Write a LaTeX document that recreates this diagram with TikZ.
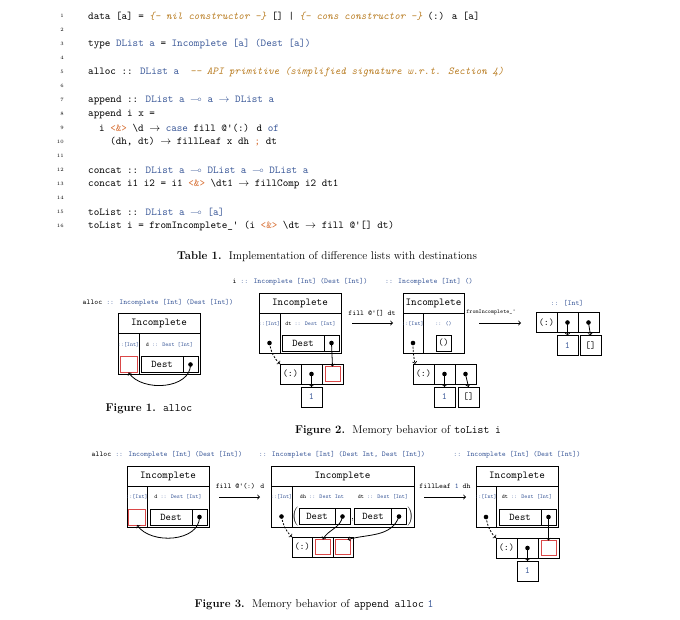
\documentclass[tikz,border=0pt]{standalone}
\usepackage{amsmath, amssymb}
\usetikzlibrary{arrows, positioning}

\definecolor{tyblue}{RGB}{58,88,152}
\definecolor{cmtorange}{RGB}{185,125,35}
\definecolor{oporange}{RGB}{215,110,50}
\definecolor{holered}{RGB}{218,72,72}

\newcommand{\tyc}[1]{\textcolor{tyblue}{#1}}
\newcommand{\cmtc}[1]{{\itshape\color{cmtorange}#1}}
\newcommand{\opc}[1]{\textcolor{oporange}{#1}}
\newcommand{\blk}[1]{\textcolor{black}{#1}}
\newcommand{\sq}{\textquotesingle}

\begin{document}
\begin{tikzpicture}[x=1pt, y=-1pt,
    codeline/.style={anchor=west, inner sep=0pt, font=\ttfamily\fontsize{10.6}{12}\selectfont},
    lineno/.style={anchor=east, inner sep=0pt, font=\fontsize{5}{6}\selectfont},
    capt/.style={inner sep=0pt, font=\fontsize{11.3}{13}\selectfont},
    tylabel/.style={inner sep=0pt, text=tyblue, font=\ttfamily\fontsize{7.4}{9}\selectfont},
    inlabel/.style={inner sep=0pt, text=tyblue, font=\ttfamily\fontsize{5.8}{7}\selectfont},
    steplabel/.style={inner sep=0pt, font=\ttfamily\fontsize{7.4}{9}\selectfont},
    hdr/.style={draw, line width=1pt, inner sep=0pt, outer sep=0pt, minimum height=20pt, font=\ttfamily\fontsize{10.6}{12}\selectfont},
    bodycol/.style={draw, line width=1pt, inner sep=0pt, outer sep=0pt, minimum height=41pt},
    memcell/.style={draw, line width=1pt, inner sep=0pt, outer sep=0pt, minimum width=21pt, minimum height=20pt, font=\ttfamily\fontsize{9.6}{11}\selectfont},
    destbox/.style={memcell, minimum width=42pt, minimum height=16pt, font=\ttfamily\fontsize{10.2}{12}\selectfont},
    dotcell/.style={memcell, minimum width=15pt, minimum height=16pt},
    hole/.style={draw=holered, line width=1pt, inner sep=0pt, outer sep=0pt, minimum width=15pt, minimum height=15pt},
    ptrdot/.style={circle, fill, inner sep=0pt, minimum size=4.6pt},
    paren/.style={inner sep=0pt, font=\fontsize{10.5}{12}\selectfont},
    ptr/.style={->, line width=0.8pt},
    dptr/.style={->, line width=0.8pt, dash pattern=on 2pt off 1.5pt},
    steparrow/.style={->, line width=0.9pt}
]
\useasboundingbox (0,0) rectangle (680,619);

% Code listing
\foreach \k in {1,...,16}
  \node[lineno] (n\k) at (64,{16+14*(\k-1)}) {\k};
\node[codeline] (l1) at (88,16) {data [a] = \cmtc{\{- nil constructor -\}} [] | \cmtc{\{- cons constructor -\}} (:) a [a]};
\node[codeline] (l3) at (88,44) {type \tyc{DList a} = \tyc{Incomplete [a] (Dest [a])}};
\node[codeline] (l5) at (88,72) {alloc :: \tyc{DList a}\ \ \cmtc{-{}- API primitive (simplified signature w.r.t. Section 4)}};
\node[codeline] (l7) at (88,100) {append :: \tyc{DList a $\multimap$ a $\rightarrow$ DList a}};
\node[codeline] (l8) at (88,114) {append i x =};
\node[codeline] (l9) at (99,128) {i \opc{<\&>} \textbackslash d $\rightarrow$ \tyc{case} fill @\sq(:) d \tyc{of}};
\node[codeline] (l10) at (110,142) {(dh, dt) $\rightarrow$ fillLeaf x dh \opc{;} dt};
\node[codeline] (l12) at (88,170) {concat :: \tyc{DList a $\multimap$ DList a $\multimap$ DList a}};
\node[codeline] (l13) at (88,184) {concat i1 i2 = i1 \opc{<\&>} \textbackslash dt1 $\rightarrow$ fillComp i2 dt1};
\node[codeline] (l15) at (88,212) {toList :: \tyc{DList a $\multimap$ [a]}};
\node[codeline] (l16) at (88,226) {toList i = fromIncomplete\_\sq\ (i \opc{<\&>} \textbackslash dt $\rightarrow$ fill @\sq[] dt)};

\node[capt] (tabcap) at (327,257) {\textbf{Table 1.}\ \ Implementation of difference lists with destinations};

% Figure 1: alloc
\node[tylabel] (f1ty) at (158,303) {\blk{alloc} :: Incomplete [Int] (Dest [Int])};
\node[hdr, minimum width=82pt] (f1hd) at (159,323.5) {Incomplete};
\node[bodycol, minimum width=21pt, below right=0pt and 0pt of f1hd.south west] (f1lc) {};
\node[bodycol, minimum width=61pt, right=0pt of f1lc] (f1rc) {};
\node[inlabel, below=8.5pt of f1lc.north] (f1lcty) {::[Int]};
\node[inlabel, below=8.5pt of f1rc.north] (f1rcty) {\blk{d} :: Dest [Int]};
\node[hole, minimum width=17pt, minimum height=16pt, above=2pt of f1lc.south] (f1hole) {};
\node[dotcell, above left=2pt and 2pt of f1rc.south east] (f1dc) {};
\node[destbox, left=0pt of f1dc] (f1dest) {Dest};
\node[ptrdot] (f1dd) at (f1dc) {};
\draw[ptr] (f1dd.center) to[out=-90, in=-55, looseness=1] (f1hole.south);
\node[capt] (f1cap) at (149,409) {\textbf{Figure 1.}\ \ \texttt{alloc}};

% Figure 2: toList i
\node[tylabel] (f2ty1) at (300,282) {\blk{i} :: Incomplete [Int] (Dest [Int])};
\node[tylabel] (f2ty2) at (429,282) {:: Incomplete [Int] ()};
\node[tylabel] (f2ty3) at (567,303) {:: [Int]};

\node[hdr, minimum width=82pt] (f2ahd) at (300,303) {Incomplete};
\node[bodycol, minimum width=21pt, minimum height=40pt, below right=0pt and 0pt of f2ahd.south west] (f2alc) {};
\node[bodycol, minimum width=61pt, minimum height=40pt, right=0pt of f2alc] (f2arc) {};
\node[inlabel, below=8.5pt of f2alc.north] (f2alcty) {::[Int]};
\node[inlabel, below=8.5pt of f2arc.north] (f2arcty) {\blk{dt} :: Dest [Int]};
\node[dotcell, above left=2pt and 2pt of f2arc.south east] (f2adc) {};
\node[destbox, left=0pt of f2adc] (f2adest) {Dest};
\node[ptrdot] (f2add) at (f2adc) {};
\node[ptrdot] (f2ald) at (f2alc.center |- f2adc.center) {};
\node[memcell, below right=11pt and 0pt of f2alc.south east] (f2ac1) {(:)};
\node[memcell, right=0pt of f2ac1] (f2ac2) {};
\node[memcell, right=0pt of f2ac2] (f2ac3) {};
\node[hole] (f2ahole) at (f2ac3) {};
\node[ptrdot] (f2acd) at (f2ac2) {};
\node[memcell, below=3pt of f2ac2] (f2aone) {\tyc{1}};
\draw[dptr] (f2ald.center) to[out=-80, in=135] (f2ac1.north west);
\draw[ptr] (f2add.center) -- (f2ahole.north);
\draw[ptr] (f2acd.center) -- (f2aone.north);

\node[steplabel] (f2s1) at (372,313) {fill @\sq[] dt};
\coordinate (f2s1a) at (352,323);
\coordinate (f2s1b) at (393,323);
\draw[steparrow] (f2s1a) -- (f2s1b);

\node[hdr, minimum width=61pt] (f2bhd) at (433.5,303) {Incomplete};
\node[bodycol, minimum width=20pt, minimum height=40pt, below right=0pt and 0pt of f2bhd.south west] (f2blc) {};
\node[bodycol, minimum width=41pt, minimum height=40pt, right=0pt of f2blc] (f2brc) {};
\node[inlabel, below=8.5pt of f2blc.north] (f2blcty) {::[Int]};
\node[inlabel, below=8.5pt of f2brc.north] (f2brcty) {:: ()};
\node[dotcell, above=2pt of f2brc.south] (f2bunit) {()};
\node[ptrdot] (f2bld) at (f2blc.center |- f2bunit.center) {};
\node[memcell, anchor=north west] (f2bc1) at ([yshift=-11pt]f2blc.south) {(:)};
\node[memcell, right=0pt of f2bc1] (f2bc2) {};
\node[memcell, right=0pt of f2bc2] (f2bc3) {};
\node[ptrdot] (f2bcd2) at (f2bc2) {};
\node[ptrdot] (f2bcd3) at (f2bc3) {};
\node[memcell, below=3pt of f2bc2] (f2bone) {\tyc{1}};
\node[memcell, below=3pt of f2bc3, xshift=3pt] (f2bnil) {[]};
\draw[dptr] (f2bld.center) to[out=-90, in=100] ([xshift=2pt]f2bc1.north west);
\draw[ptr] (f2bcd2.center) -- (f2bone.north);
\draw[ptr] (f2bcd3.center) -- (f2bnil.north);

\node[steplabel, font=\ttfamily\fontsize{5.8}{7}\selectfont] (f2s2) at (491,312) {fromIncomplete\_\sq};
\coordinate (f2s2a) at (479,323);
\coordinate (f2s2b) at (521,323);
\draw[steparrow] (f2s2a) -- (f2s2b);

\node[memcell] (f2cc1) at (546.5,322.5) {(:)};
\node[memcell, right=0pt of f2cc1] (f2cc2) {};
\node[memcell, right=0pt of f2cc2] (f2cc3) {};
\node[ptrdot] (f2ccd2) at (f2cc2) {};
\node[ptrdot] (f2ccd3) at (f2cc3) {};
\node[memcell, below=3pt of f2cc2] (f2cone) {\tyc{1}};
\node[memcell, below=3pt of f2cc3, xshift=2pt] (f2cnil) {[]};
\draw[ptr] (f2ccd2.center) -- (f2cone.north);
\draw[ptr] (f2ccd3.center) -- (f2cnil.north);

\node[capt] (f2cap) at (398,431) {\textbf{Figure 2.}\ \ Memory behavior of \texttt{toList i}};

% Figure 3: append alloc 1
\node[tylabel] (f3ty1) at (167,455) {\blk{alloc} :: Incomplete [Int] (Dest [Int])};
\node[tylabel] (f3ty2) at (342,455) {:: Incomplete [Int] (Dest Int, Dest [Int])};
\node[tylabel] (f3ty3) at (517,455) {:: Incomplete [Int] (Dest [Int])};

\node[hdr, minimum width=82pt] (f3ahd) at (168,476) {Incomplete};
\node[bodycol, minimum width=20pt, below right=0pt and 0pt of f3ahd.south west] (f3alc) {};
\node[bodycol, minimum width=62pt, right=0pt of f3alc] (f3arc) {};
\node[inlabel, below=8.5pt of f3alc.north] (f3alcty) {::[Int]};
\node[inlabel, below=8.5pt of f3arc.north] (f3arcty) {\blk{d} :: Dest [Int]};
\node[hole, minimum width=17pt, minimum height=16pt, above=2pt of f3alc.south] (f3ahole) {};
\node[dotcell, above left=2pt and 2pt of f3arc.south east] (f3adc) {};
\node[destbox, left=0pt of f3adc] (f3adest) {Dest};
\node[ptrdot] (f3add) at (f3adc) {};
\draw[ptr] (f3add.center) to[out=-90, in=-55, looseness=1] (f3ahole.south);

\node[steplabel] (f3s1) at (240,486) {fill @\sq(:) d};
\coordinate (f3s1a) at (219,497);
\coordinate (f3s1b) at (260,497);
\draw[steparrow] (f3s1a) -- (f3s1b);

\node[hdr, minimum width=143pt] (f3bhd) at (342.5,476) {Incomplete};
\node[bodycol, minimum width=21pt, below right=0pt and 0pt of f3bhd.south west] (f3blc) {};
\node[bodycol, minimum width=122pt, right=0pt of f3blc] (f3brc) {};
\node[inlabel, below=8.5pt of f3blc.north] (f3blcty) {::[Int]};
\node[inlabel] (f3bdhty) at (322,497) {\blk{dh} :: Dest Int};
\node[inlabel] (f3bdtty) at (383,497) {\blk{dt} :: Dest [Int]};
\node[dotcell] (f3bdc1) at (342.5,516.5) {};
\node[destbox, minimum width=36pt, left=0pt of f3bdc1] (f3bdest1) {Dest};
\node[dotcell] (f3bdc2) at (399,516.5) {};
\node[destbox, minimum width=37pt, left=0pt of f3bdc2] (f3bdest2) {Dest};
\node[paren] (f3blp) at (295,517) {$\Big($};
\node[paren] (f3brp) at (410.5,517) {$\Big)$};
\node[paren] (f3bcomma) at (352.5,520) {,};
\node[ptrdot] (f3bdd1) at (f3bdc1) {};
\node[ptrdot] (f3bdd2) at (f3bdc2) {};
\node[ptrdot] (f3bld) at (f3blc.center |- f3bdc1.center) {};
\node[memcell, minimum width=20.5pt, below right=10pt and 0pt of f3blc.south east] (f3bc1) {(:)};
\node[memcell, minimum width=20.5pt, right=0pt of f3bc1] (f3bc2) {};
\node[memcell, minimum width=20.5pt, right=0pt of f3bc2] (f3bc3) {};
\node[hole] (f3bh1) at (f3bc2) {};
\node[hole] (f3bh2) at (f3bc3) {};
\draw[dptr] (f3bld.center) to[out=-80, in=135] (f3bc1.north west);
\draw[ptr] (f3bdd1.center) to[out=-100, in=60] (f3bh1.north);
\draw[ptr] (f3bdd2.center) to[out=-110, in=15] (f3bh2.60);

\node[steplabel] (f3s2) at (445,486) {fillLeaf \tyc{1} dh};
\coordinate (f3s2a) at (424,497);
\coordinate (f3s2b) at (466,497);
\draw[steparrow] (f3s2a) -- (f3s2b);

\node[hdr, minimum width=82pt] (f3chd) at (517,476) {Incomplete};
\node[bodycol, minimum width=20pt, below right=0pt and 0pt of f3chd.south west] (f3clc) {};
\node[bodycol, minimum width=62pt, right=0pt of f3clc] (f3crc) {};
\node[inlabel, below=8.5pt of f3clc.north] (f3clcty) {::[Int]};
\node[inlabel, below=8.5pt of f3crc.north] (f3crcty) {\blk{dt} :: Dest [Int]};
\node[dotcell, above left=2pt and 2pt of f3crc.south east] (f3cdc) {};
\node[destbox, left=0pt of f3cdc] (f3cdest) {Dest};
\node[ptrdot] (f3cdd) at (f3cdc) {};
\node[ptrdot] (f3cld) at (f3clc.center |- f3cdc.center) {};
\node[memcell, below right=11pt and 0pt of f3clc.south east] (f3cc1) {(:)};
\node[memcell, right=0pt of f3cc1] (f3cc2) {};
\node[memcell, right=0pt of f3cc2] (f3cc3) {};
\node[hole] (f3chole) at (f3cc3) {};
\node[ptrdot] (f3ccd) at (f3cc2) {};
\node[memcell, below=3pt of f3cc2] (f3cone) {\tyc{1}};
\draw[dptr] (f3cld.center) to[out=-80, in=135] (f3cc1.north west);
\draw[ptr] (f3cdd.center) -- (f3chole.north);
\draw[ptr] (f3ccd.center) -- (f3cone.north);

\node[capt] (f3cap) at (314,605) {\textbf{Figure 3.}\ \ Memory behavior of \texttt{append alloc} \texttt{\tyc{1}}};

\end{tikzpicture}
\end{document}
